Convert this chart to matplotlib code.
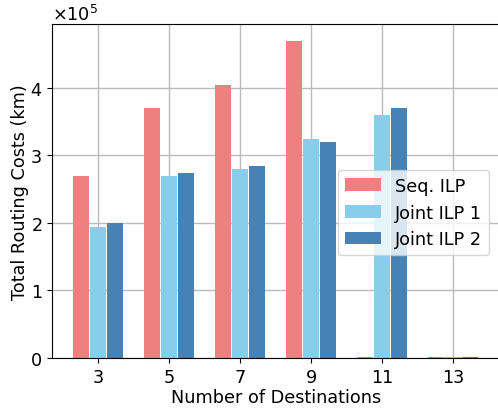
import matplotlib
matplotlib.use("Agg")
import matplotlib.pyplot as plt
import numpy as np
from matplotlib.ticker import ScalarFormatter

# destinations on the x axis
destinations = [3, 5, 7, 9, 11, 13]

# routing costs in km (0 -> no result, drawn as a flat bar)
seq_ilp = [270000, 370000, 404000, 470000, 1000, 1000]
joint_ilp1 = [194000, 270000, 280000, 324000, 360000, 1000]
joint_ilp2 = [200000, 274000, 284000, 320000, 370000, 1000]

labels = ["Seq. ILP", "Joint ILP 1", "Joint ILP 2"]
colors = ["lightcoral", "skyblue", "steelblue"]

fs = 12.7

fig = plt.figure(figsize=(4.98, 4.14), dpi=100)
ax = fig.add_axes([0.104, 0.133, 0.899, 0.807])
ax.set_axisbelow(True)
ax.grid(True, color="#bbbbbb", linewidth=1)

x = np.array(destinations, dtype=float)
w = 0.45
off = 0.48
for i, vals in enumerate([seq_ilp, joint_ilp1, joint_ilp2]):
    ax.bar(x + (i - 1) * off, vals, width=w, color=colors[i], label=labels[i])

ax.set_xticks(destinations)
ax.set_xlim(1.7, 14.3)
ax.set_ylim(0, 495000)
ax.set_yticks([0, 100000, 200000, 300000, 400000])

fmt = ScalarFormatter(useMathText=True)
fmt.set_powerlimits((0, 0))
ax.yaxis.set_major_formatter(fmt)
ax.yaxis.get_offset_text().set_fontsize(fs)

ax.tick_params(labelsize=fs)
ax.set_xlabel("Number of Destinations", fontsize=fs, labelpad=2)
ax.set_ylabel("Total Routing Costs (km)", fontsize=fs, labelpad=1)

ax.legend(fontsize=fs, loc="upper right", bbox_to_anchor=(0.996, 0.59))

fig.savefig("out.png", dpi=100)
